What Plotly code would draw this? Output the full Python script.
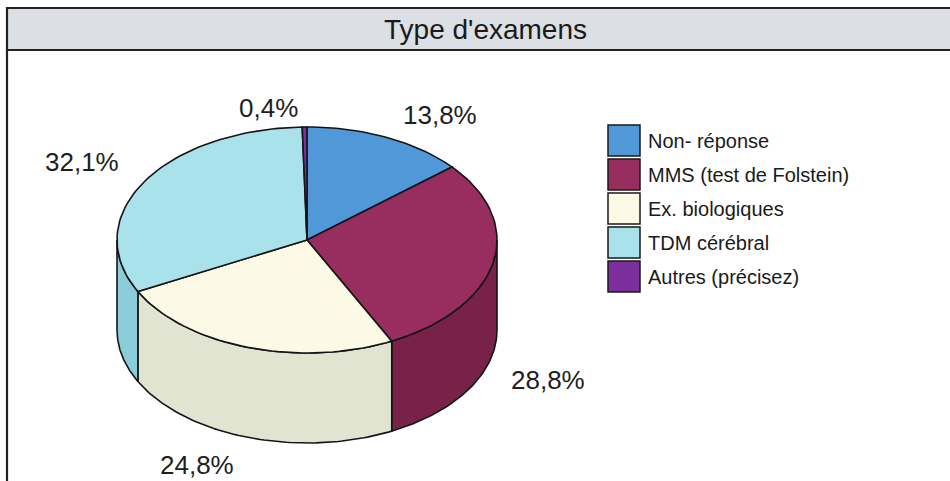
import numpy as np
import plotly.graph_objects as go

# ---------------- data ----------------
categories = ["Non- réponse", "MMS (test de Folstein)", "Ex. biologiques",
              "TDM cérébral", "Autres (précisez)"]
values = [13.8, 28.8, 24.8, 32.1, 0.4]
value_labels = ["13,8%", "28,8%", "24,8%", "32,1%", "0,4%"]
title_text = "Type d'examens"

# ---------------- style ----------------
top_colors = ["#5198d8", "#982e60", "#fcfae6", "#a9e2eb", "#7b2e9c"]
side_colors = ["#3f7fbf", "#782249", "#e2e4d2", "#8acdd8", "#5f2279"]
label_pos = [(440, 115), (548, 380), (197, 465), (82, 162), (268, 108)]
FONT = "Liberation Sans, Arial, sans-serif"
W, H = 950, 481
CX, CY, RX, RY, DEPTH = 307, 240, 190, 113, 90
EDGE = dict(color="#151515", width=1.6)

fracs = np.array(values) / np.sum(values)
bounds = np.concatenate([[0.0], np.cumsum(fracs)]) * 2 * np.pi


def ell(t, dy=0.0):
    return CX + RX * np.sin(t), CY - RY * np.cos(t) + dy


fig = go.Figure()

# side walls (front half only)
for i, name in enumerate(categories):
    a, b = max(bounds[i], np.pi / 2), min(bounds[i + 1], 3 * np.pi / 2)
    if b <= a:
        continue
    t = np.linspace(a, b, 80)
    xt, yt = ell(t)
    xb, yb = ell(t[::-1], DEPTH)
    xs = np.concatenate([xt, xb, xt[:1]])
    ys = np.concatenate([yt, yb, yt[:1]])
    fig.add_trace(go.Scatter(x=xs, y=ys, mode="lines", fill="toself",
                             fillcolor=side_colors[i], line=EDGE,
                             hoverinfo="skip", showlegend=False))

# top faces
for i, name in enumerate(categories):
    t = np.linspace(bounds[i], bounds[i + 1], max(4, int(200 * fracs[i])))
    xt, yt = ell(t)
    xs = np.concatenate([[CX], xt, [CX]])
    ys = np.concatenate([[CY], yt, [CY]])
    fig.add_trace(go.Scatter(x=xs, y=ys, mode="lines", fill="toself",
                             fillcolor=top_colors[i], line=EDGE,
                             name=name, text=value_labels[i],
                             hoverinfo="name+text", showlegend=False))

shapes = [
    # title band
    dict(type="rect", xref="x", yref="y", x0=7, y0=8, x1=W + 5, y1=50,
         fillcolor="#dcdfe4", line=dict(color="#222222", width=2.2), layer="below"),
    # left frame line
    dict(type="line", xref="x", yref="y", x0=7, y0=50, x1=7, y1=H + 5,
         line=dict(color="#222222", width=2.2), layer="below"),
]
annotations = [
    dict(x=485, y=29, xref="x", yref="y", text=title_text, showarrow=False,
         font=dict(family=FONT, size=28, color="#1a1a1a"),
         xanchor="center", yanchor="middle"),
]
for (lx, ly), txt in zip(label_pos, value_labels):
    annotations.append(dict(x=lx, y=ly, xref="x", yref="y", text=txt,
                            showarrow=False, xanchor="center", yanchor="middle",
                            font=dict(family=FONT, size=26, color="#1e1e1e")))

# legend
for i, name in enumerate(categories):
    y0 = 125 + 34 * i
    shapes.append(dict(type="rect", xref="x", yref="y", x0=608, x1=640,
                       y0=y0, y1=y0 + 31, fillcolor=top_colors[i],
                       line=dict(color="#1a1a1a", width=1.5)))
    annotations.append(dict(x=646, y=y0 + 15.5, xref="x", yref="y", text=name,
                            showarrow=False, xanchor="left", yanchor="middle",
                            font=dict(family=FONT, size=20, color="#1a1a1a")))

fig.update_layout(
    width=W, height=H, margin=dict(l=0, r=0, t=0, b=0),
    paper_bgcolor="white", plot_bgcolor="white",
    xaxis=dict(range=[0, W], visible=False, fixedrange=True),
    yaxis=dict(range=[H, 0], visible=False, fixedrange=True),
    shapes=shapes, annotations=annotations, showlegend=False,
)

fig.write_html("out.html", config={"displayModeBar": False},
               post_script="document.body.style.margin='0';")
